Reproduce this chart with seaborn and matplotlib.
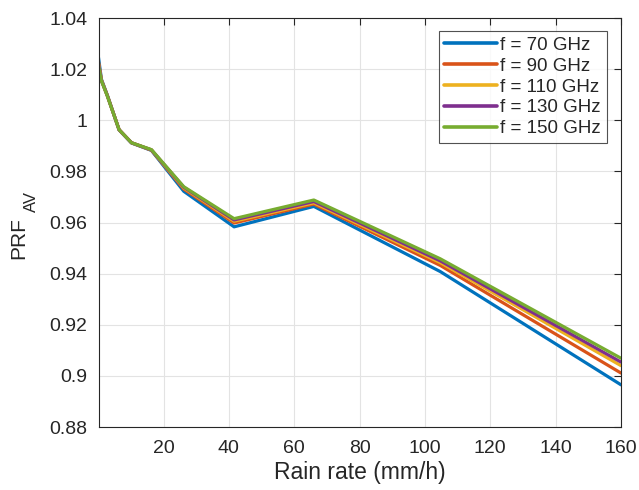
import numpy as np
import pandas as pd
import matplotlib
matplotlib.use("Agg")
import matplotlib.pyplot as plt
import seaborn as sns

rain_rate = [0.1, 1.0, 2.8, 6.4, 10.2, 16.3, 26.2, 41.6, 66.0, 104.7, 160.0]
prf_70 = [1.0245, 1.0160, 1.0098, 0.9962, 0.9911, 0.9882, 0.9722, 0.9583, 0.9663, 0.9408, 0.8965]
prf_90 = [1.0228, 1.0157, 1.0097, 0.9963, 0.9912, 0.9883, 0.9731, 0.9598, 0.9672, 0.9432, 0.9011]
prf_110 = [1.0222, 1.0156, 1.0096, 0.9963, 0.9912, 0.9884, 0.9735, 0.9605, 0.9677, 0.9443, 0.9040]
prf_130 = [1.0217, 1.0155, 1.0096, 0.9963, 0.9912, 0.9884, 0.9738, 0.9610, 0.9682, 0.9450, 0.9054]
prf_150 = [1.0212, 1.0154, 1.0095, 0.9963, 0.9912, 0.9885, 0.9740, 0.9615, 0.9688, 0.9458, 0.9069]
labels = ["f = 70 GHz", "f = 90 GHz", "f = 110 GHz", "f = 130 GHz", "f = 150 GHz"]
colors = ["#0072BD", "#D95319", "#EDB120", "#7E2F8E", "#77AC30"]

series = [prf_70, prf_90, prf_110, prf_130, prf_150]
df = pd.concat([pd.DataFrame({"x": rain_rate, "y": s, "f": lab}) for s, lab in zip(series, labels)],
               ignore_index=True)

sns.set_style("white")
plt.rcParams["font.family"] = ["Liberation Sans", "DejaVu Sans"]

W, H = 639, 490
fig = plt.figure(figsize=(W / 100, H / 100), dpi=100)
ax = fig.add_axes([98.5 / W, 1 - 427 / H, (621 - 98.5) / W, (427 - 18) / H])

sns.lineplot(data=df, x="x", y="y", hue="f", palette=colors, linewidth=2.3, ax=ax,
             sort=False, estimator=None)

ax.set_xlim(0.1, 160)
ax.set_ylim(0.88, 1.04)
ax.set_xticks([20, 40, 60, 80, 100, 120, 140, 160])
ax.set_yticks([0.88, 0.90, 0.92, 0.94, 0.96, 0.98, 1.0, 1.02, 1.04])
ax.set_yticklabels(["0.88", "0.9", "0.92", "0.94", "0.96", "0.98", "1", "1.02", "1.04"])
ax.grid(True, color="#e3e3e3", linewidth=0.8)
ax.tick_params(direction="in", top=True, right=True, length=5, width=0.8, labelsize=14,
               colors="#262626")
ax.tick_params(axis="y", pad=8)
ax.tick_params(axis="x", pad=9)
for sp in ax.spines.values():
    sp.set_color("#262626")
    sp.set_linewidth(0.8)
ax.set_xlabel("Rain rate (mm/h)", fontsize=16.5, color="#262626", labelpad=3)
ax.set_ylabel("")
fig.text(18.5 / W, 1 - 238 / H, "PRF", rotation=90, ha="center", va="center",
         fontsize=15, color="#262626")
fig.text(31 / W, 1 - 201 / H, "AV", rotation=90, ha="center", va="center",
         fontsize=12, color="#262626")

leg = ax.legend(loc="upper right", bbox_to_anchor=(606.7 / W, 1 - 31 / H),
                bbox_transform=fig.transFigure, borderaxespad=0,
                fontsize=13.5, frameon=True, fancybox=False, edgecolor="#262626",
                handlelength=2.8, handletextpad=0.2, borderpad=0.3, labelspacing=0.2)
leg.get_frame().set_linewidth(0.8)
for line in leg.get_lines():
    line.set_linewidth(2.6)

fig.savefig("out.png", dpi=100)
